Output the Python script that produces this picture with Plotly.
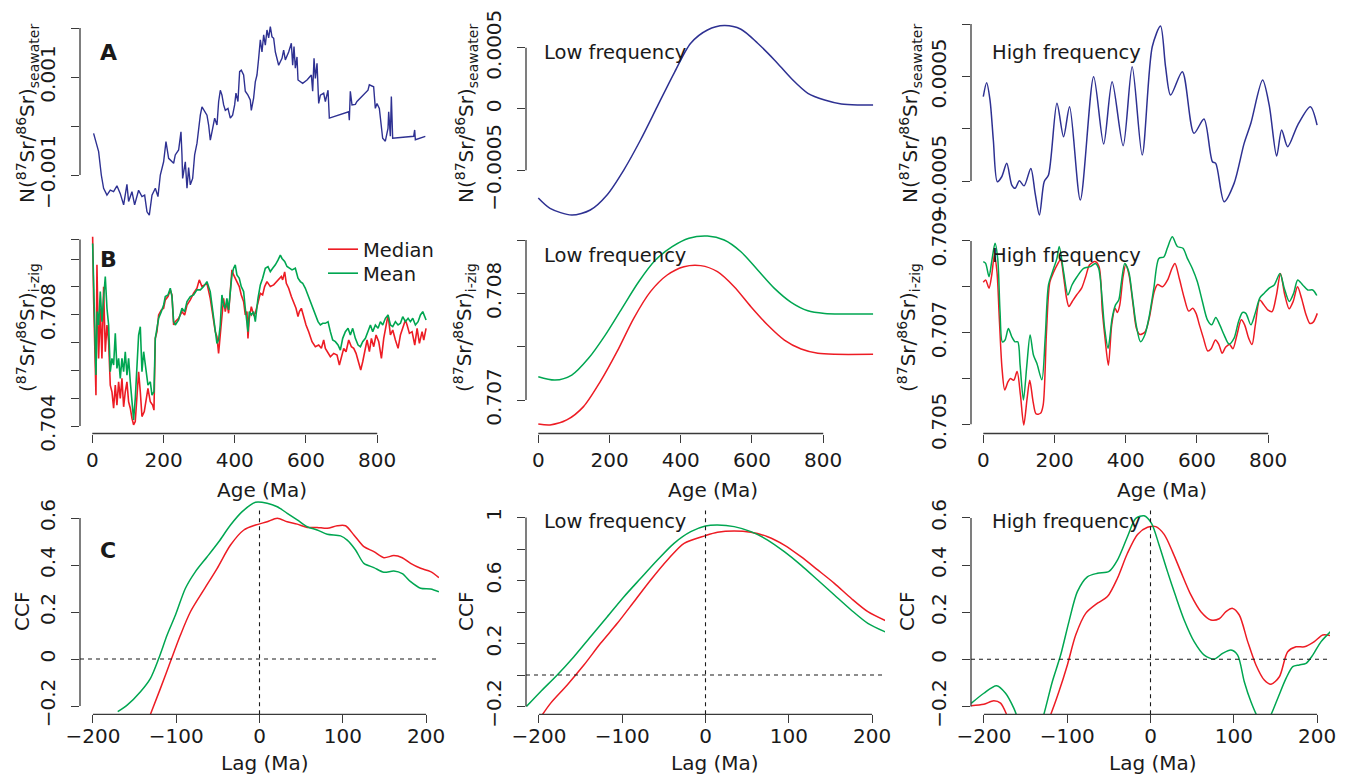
import plotly.graph_objects as go
from plotly.subplots import make_subplots

W, H = 1348, 776
FONT = 'DejaVu Sans'
INK = '#1a1a1a'
AXIS = '#3a3a3a'
BLUE = '#2E3192'
RED = '#ED1C24'
GREEN = '#00A651'

# ---------------- A: normalised seawater 87Sr/86Sr ----------------
age_sw = [3.7, 13.1, 17.8, 25.3, 31.8, 41.2, 50.5, 59.8, 69.2, 78.6,
          88, 97.3, 102, 111.4, 118.9, 130, 139.5, 147, 153.6, 160.1,
          167.6, 177, 184.4, 191, 200.3, 206.9, 214.4, 228.4, 233, 242.4,
          249, 251.8, 253.7, 261.2, 265.9, 270.5, 275.2, 281.8, 287.4, 294,
          298.6, 303.3, 308, 315.5, 322, 326.7, 331.4, 338, 343.6, 350.1,
          354.8, 359.5, 364.1, 368.8, 373.5, 381, 387.5, 394, 399.7, 403.4,
          409, 413.7, 418.4, 424.9, 429.6, 437.1, 443.6, 446.5, 453, 457.7,
          462.4, 467.1, 471.8, 476.5, 481.2, 485.8, 490.5, 495.2, 499.9, 504.6,
          509.3, 514, 523.3, 532.7, 537.3, 542, 551.4, 558.9, 562.6, 566.4,
          570.1, 574.8, 577.6, 590.7, 602.9, 615.1, 618.8, 622.6, 626.3, 631,
          635.7, 640.4, 649.7, 654.4, 661.9, 665.6, 691.8, 719.9, 721.7, 724.5,
          729.2, 738.6, 743.2, 774.1, 777.9, 790, 794.7, 799.4, 806, 811.6,
          815.3, 822.8, 830.3, 832.2, 836.9, 839.7, 843.4, 902.4, 905.2, 907.1,
          935.1]
nsw = [-0.149e-3, -0.388e-3, -0.524e-3, -1.0e-3, -1.27e-3, -1.41e-3, -1.31e-3, -1.34e-3, -1.22e-3, -1.38e-3,
       -1.61e-3, -1.19e-3, -1.54e-3, -1.34e-3, -1.61e-3, -1.31e-3, -1.44e-3, -1.41e-3, -1.75e-3, -1.82e-3,
       -1.41e-3, -1.27e-3, -1.44e-3, -1.0e-3, -0.73e-3, -0.32e-3, -0.66e-3, -0.76e-3, -0.59e-3, -0.49e-3,
       -0.12e-3, -0.59e-3, -1.07e-3, -0.73e-3, -1.27e-3, -0.85e-3, -1.2e-3, -1.07e-3, -0.59e-3, -0.35e-3,
       -0.05e-3, 0.22e-3, 0.39e-3, 0.29e-3, 0.22e-3, 0.02e-3, -0.29e-3, -0.05e-3, 0.16e-3, 0.02e-3,
       0.5e-3, 0.73e-3, 0.63e-3, 0.43e-3, 0.32e-3, 0.36e-3, 0.16e-3, 0.22e-3, 0.43e-3, 0.67e-3,
       0.5e-3, 1.11e-3, 1.14e-3, 1.04e-3, 0.71e-3, 0.63e-3, 0.53e-3, 0.32e-3, 0.57e-3, 0.9e-3,
       1.04e-3, 1.38e-3, 1.76e-3, 1.51e-3, 1.86e-3, 1.65e-3, 1.96e-3, 1.8e-3, 2.03e-3, 1.82e-3,
       1.79e-3, 1.51e-3, 1.24e-3, 1.38e-3, 1.55e-3, 1.35e-3, 1.51e-3, 1.69e-3, 1.24e-3, 1.62e-3,
       1.18e-3, 1.41e-3, 0.94e-3, 0.87e-3, 0.94e-3, 1.04e-3, 0.71e-3, 1.38e-3, 0.97e-3, 1.28e-3,
       0.46e-3, 0.63e-3, 0.67e-3, 0.5e-3, 0.73e-3, 0.16e-3, 0.22e-3, 0.29e-3, 0.12e-3, 0.71e-3,
       0.43e-3, 0.44e-3, 0.5e-3, 0.73e-3, 0.84e-3, 0.8e-3, 0.36e-3, 0.46e-3, 0.36e-3, -0.08e-3,
       -0.25e-3, -0.31e-3, -0.05e-3, 0.29e-3, -0.21e-3, 0.6e-3, -0.25e-3, -0.21e-3, -0.08e-3, -0.28e-3,
       -0.21e-3]

age_sw_low = [0, 33, 94, 146, 193, 240, 287, 334, 381, 428, 475, 522, 569, 616, 663,
              710, 757, 804, 851, 898, 940]
nsw_low = [-7.26e-4, -8.1e-4, -8.65e-4, -8.24e-4, -7.01e-4, -4.98e-4, -2.53e-4, 0.19e-4,
           2.91e-4, 5.36e-4, 6.44e-4, 6.8e-4, 6.5e-4, 5.36e-4, 4.0e-4, 2.5e-4, 1.28e-4,
           0.73e-4, 0.41e-4, 0.33e-4, 0.33e-4]

age_sw_high = [0, 9.4, 18.9, 28.2, 39.4, 51.8, 65.9, 80, 89.3, 101.4,
               114.6, 133.5, 145.6, 157.7, 171, 183.1, 206.8, 225.4, 242.3, 272.4,
               309.9, 338, 361.7, 392.7, 418, 446.2, 474.4, 497.7, 511.8, 525.9,
               558.9, 591.5, 619.7, 643.4, 652.7, 676.1, 704.2, 732.4, 751.3, 784.2,
               802.8, 823.7, 837.7, 854.6, 882.8, 918.3, 937.2]
nsw_high = [3.06e-4, 4.39e-4, 2.74e-4, -1.08e-4, -5.06e-4, -4.59e-4, -3.31e-4, -5.38e-4, -5.69e-4, -4.98e-4,
            -5.46e-4, -3.79e-4, -6.17e-4, -8.25e-4, -5.06e-4, -4.42e-4, 2.43e-4, -0.76e-4, 2.1e-4, -6.81e-4,
            4.97e-4, -1.46e-4, 4.49e-4, -1.62e-4, 5.92e-4, -2.51e-4, 7.83e-4, 9.81e-4, 5.92e-4, 3.22e-4,
            5.45e-4, -0.44e-4, 0.93e-4, -3.15e-4, -3.31e-4, -6.97e-4, -5.22e-4, -1.4e-4, 0.52e-4, 4.65e-4,
            2.26e-4, -2.61e-4, -0.12e-4, -1.72e-4, 0.35e-4, 2.1e-4, 0.35e-4]

# ---------------- B: (87Sr/86Sr) i-zig, median and mean ----------------
age_med = [1, 3.7, 10.3, 13.1, 17.8, 22.5, 27.1, 31.8, 36.5, 41.2,
           45.9, 50.5, 55.2, 59.9, 64.6, 69.2, 73.9, 78.6, 83.3, 88,
           92.6, 97.3, 102, 106.7, 111.4, 116, 120.7, 125.4, 130.1, 134.8,
           139.5, 146, 150.7, 156.3, 162.9, 169.4, 173.2, 176.9, 181.6, 186.3,
           193.8, 200.3, 205, 212.5, 219, 223.7, 228.4, 233, 242.4, 251.8,
           259.3, 265.9, 275.2, 284.5, 293.9, 300.4, 307.9, 317.2, 321.9, 331.2,
           337.8, 345.3, 350, 354.6, 359.3, 364, 368.7, 373.4, 378, 382.7,
           387.4, 392.1, 396.8, 401.4, 406.1, 412.7, 418.3, 424.9, 429.6, 434.3,
           437.1, 440.8, 446.5, 453, 457.7, 465.2, 471.8, 478.3, 483.9, 490.5,
           499.9, 509.3, 518.6, 525.2, 530.8, 534.5, 540.2, 544.8, 551.4, 558.9,
           565.4, 572, 577.6, 581.4, 587, 593.5, 600.1, 607.6, 617, 626.3,
           635.7, 643.2, 649.7, 654.4, 661.9, 668.5, 677.8, 687.2, 693.8, 699.4,
           706, 712.5, 720, 727.5, 734.1, 740.6, 748.1, 753.7, 759.3, 765,
           771.5, 778.1, 783.7, 790.2, 796.8, 804.3, 811.8, 818.3, 824.9, 830.5,
           837.1, 843.6, 851.1, 858.6, 865.2, 871.7, 879.2, 883.9, 890.4, 897.9,
           905.4, 912, 918.5, 926, 930.7, 937.2]
sr_med = [0.7108, 0.70859, 0.70511, 0.70979, 0.70643, 0.70823, 0.70643, 0.7090, 0.70667, 0.70763,
          0.70703, 0.70547, 0.70523, 0.70464, 0.70547, 0.70475, 0.70559, 0.70499, 0.70571, 0.70469,
          0.70523, 0.70559, 0.70487, 0.70464, 0.70428, 0.70404, 0.70416, 0.70499, 0.70595, 0.70523,
          0.70434, 0.70452, 0.70499, 0.70535, 0.70487, 0.70475, 0.70457, 0.70715, 0.70739, 0.70799,
          0.70817, 0.70823, 0.70853, 0.70865, 0.70889, 0.70871, 0.70763, 0.70775, 0.70787, 0.70811,
          0.70799, 0.70835, 0.70853, 0.70877, 0.70895, 0.70925, 0.70901, 0.70907, 0.70913, 0.70859,
          0.70805, 0.70739, 0.70721, 0.70661, 0.70727, 0.70799, 0.70859, 0.70811, 0.70847, 0.70805,
          0.70871, 0.70961, 0.70943, 0.70931, 0.70913, 0.70901, 0.70871, 0.70847, 0.70799, 0.70811,
          0.70715, 0.70787, 0.70829, 0.70799, 0.70805, 0.70847, 0.70877, 0.70871, 0.70901, 0.70919,
          0.70901, 0.70907, 0.70919, 0.70931, 0.70937, 0.70925, 0.70954, 0.70913, 0.70895, 0.70865,
          0.70841, 0.70823, 0.70793, 0.70811, 0.70823, 0.70793, 0.70763, 0.70739, 0.70703, 0.70685,
          0.70691, 0.70679, 0.70709, 0.70679, 0.70661, 0.70649, 0.70661, 0.70655, 0.70619, 0.70649,
          0.70679, 0.70667, 0.70709, 0.70685, 0.70679, 0.70661, 0.70631, 0.70601, 0.70631, 0.70667,
          0.70709, 0.70667, 0.70715, 0.70685, 0.70727, 0.70703, 0.70643, 0.70715, 0.70763, 0.70799,
          0.70727, 0.70745, 0.70709, 0.70679, 0.70727, 0.70751, 0.70781, 0.70763, 0.70733, 0.70739,
          0.70691, 0.70751, 0.70697, 0.70739, 0.70709, 0.70751]

age_mean = [1, 3.7, 10.3, 14, 17.8, 22.5, 27.1, 31.8, 36.5, 41.2,
            45.9, 50.5, 55.2, 59.9, 64.6, 69.2, 73.9, 78.6, 83.3, 88,
            92.6, 97.3, 102, 106.7, 111.4, 116, 120.7, 125.4, 130.1, 134.8,
            139.5, 144.2, 150.7, 156.3, 162.9, 167.6, 173.2, 176.9, 181.6, 186.3,
            193.8, 200.3, 205, 212.5, 219, 223.7, 228.4, 233, 242.4, 251.8,
            259.3, 265.9, 275.2, 284.5, 293.9, 303.3, 312.6, 321.9, 331.2, 337.8,
            345.3, 350, 354.6, 359.3, 364, 368.7, 373.4, 378, 382.7, 387.4,
            392.1, 396.8, 401.4, 406.1, 412.7, 418.3, 424.9, 429.6, 434.3, 437.1,
            440.8, 446.5, 453, 457.7, 465.2, 471.8, 478.3, 485.8, 493.3, 499.9,
            506.5, 514, 521.4, 528, 532.7, 540.2, 546.7, 553.3, 560.8, 570.1,
            577.6, 584.2, 590.7, 598.2, 605.7, 612.2, 618.8, 626.3, 633.8, 640.4,
            647, 654.4, 661.9, 668.5, 675, 682.5, 690, 696.5, 703.1, 710.6,
            718.1, 724.6, 731.2, 738.6, 746.2, 752.8, 759.3, 766.8, 774.3, 780.9,
            787.4, 794.9, 802.4, 808.9, 815.5, 823, 830.5, 837.1, 843.6, 851.1,
            858.6, 865.2, 871.7, 879.2, 886.7, 893.2, 899.8, 907.3, 914.8, 921.4,
            927.9, 933.5, 937.2]
sr_mean = [0.71056, 0.70883, 0.70583, 0.70811, 0.70763, 0.70883, 0.70775, 0.70859, 0.70937, 0.70823,
           0.70763, 0.70595, 0.70643, 0.70619, 0.70733, 0.70607, 0.70643, 0.70571, 0.70643, 0.70595,
           0.70667, 0.70583, 0.70643, 0.70559, 0.70499, 0.70422, 0.70499, 0.70595, 0.70727, 0.70757,
           0.70595, 0.70667, 0.70607, 0.70547, 0.70559, 0.70511, 0.70523, 0.70715, 0.70751, 0.70787,
           0.70811, 0.70835, 0.70865, 0.70871, 0.70895, 0.70865, 0.70775, 0.70763, 0.70781, 0.70823,
           0.70811, 0.70847, 0.70865, 0.70871, 0.70889, 0.70889, 0.70901, 0.70919, 0.70883, 0.70823,
           0.70739, 0.70697, 0.70709, 0.70763, 0.70871, 0.70835, 0.70823, 0.70859, 0.70817, 0.70883,
           0.70943, 0.70967, 0.70979, 0.70943, 0.70931, 0.70901, 0.70883, 0.70823, 0.70775, 0.70739,
           0.70811, 0.70799, 0.70811, 0.70775, 0.70859, 0.70907, 0.70931, 0.70967, 0.70973, 0.70955,
           0.70967, 0.70979, 0.70996, 0.71014, 0.71002, 0.70991, 0.70973, 0.70967, 0.70961, 0.70967,
           0.70931, 0.70919, 0.70913, 0.70895, 0.70871, 0.70847, 0.70823, 0.70799, 0.70775, 0.70763,
           0.70769, 0.70769, 0.70775, 0.70739, 0.70709, 0.70703, 0.70691, 0.70673, 0.70715, 0.70739,
           0.70751, 0.70727, 0.70751, 0.70715, 0.70691, 0.70685, 0.70703, 0.70715, 0.70739, 0.70763,
           0.70739, 0.70763, 0.70751, 0.70775, 0.70763, 0.70787, 0.70799, 0.70763, 0.70757, 0.70775,
           0.70763, 0.70769, 0.70793, 0.70775, 0.70787, 0.70775, 0.70787, 0.70763, 0.70775, 0.70799,
           0.70811, 0.70793, 0.70781]

age_mean_low = [0, 47, 94, 141, 188, 235, 282, 329, 376, 423, 475, 522, 569, 616, 663,
                710, 757, 804, 851, 940]
sr_mean_low = [0.707218, 0.707187, 0.707234, 0.707391, 0.707609, 0.70786, 0.708109, 0.708312,
               0.708437, 0.708516, 0.708537, 0.7085, 0.70839, 0.708219, 0.708047, 0.707916,
               0.707837, 0.707812, 0.707806, 0.707806]
age_med_low = [0, 33, 80, 127, 174, 221, 268, 315, 362, 409, 456, 503, 550, 597, 644,
               691, 738, 785, 832, 940]
sr_med_low = [0.706775, 0.706766, 0.706813, 0.706938, 0.707172, 0.707453, 0.707766, 0.708016,
              0.708172, 0.70825, 0.70826, 0.708203, 0.708062, 0.707875, 0.707703, 0.707562,
              0.707478, 0.707438, 0.707428, 0.707428]

age_mean_high = [0, 6.6, 16.1, 23.6, 33, 40.5, 47, 53.5, 61.1, 70.4,
                 80, 89.3, 96.9, 103.4, 112.7, 122.3, 131.5, 140.8, 150.4, 164.5,
                 173.8, 183.1, 194.4, 206.8, 213.2, 225.4, 237.7, 249, 263.1, 281.7,
                 300.6, 314.6, 324, 333.5, 340.8, 350.4, 361.7, 371, 380.3, 387.9,
                 397.2, 408.5, 418, 429.3, 441.4, 453.5, 464.8, 478.9, 493, 507,
                 516.6, 530.7, 544.8, 560.6, 573, 587, 601.1, 615.2, 629.3, 641.4,
                 652.7, 664, 676.1, 690.1, 704.2, 716.6, 727.9, 737.2, 751.3, 763.4,
                 776.6, 788.7, 802.8, 816.9, 832.9, 845, 859.2, 871.5, 882.8, 896.9,
                 911, 925, 936.4]
sr_mean_high = [0.70855, 0.70851, 0.70822, 0.70855, 0.70895, 0.70862, 0.70746, 0.70680, 0.70684, 0.70709,
                0.70691, 0.70680, 0.70680, 0.70629, 0.70553, 0.70629, 0.70695, 0.70651, 0.70633, 0.70597,
                0.70688, 0.70804, 0.70833, 0.70862, 0.70888, 0.70833, 0.70782, 0.70804, 0.70822, 0.70840,
                0.70844, 0.70851, 0.70840, 0.70775, 0.70709, 0.70666, 0.70731, 0.70760, 0.70771, 0.70811,
                0.70851, 0.70833, 0.70782, 0.70717, 0.70680, 0.70695, 0.70731, 0.70797, 0.70862, 0.70865,
                0.70884, 0.70909, 0.70888, 0.70884, 0.70862, 0.70840, 0.70811, 0.70768, 0.70728, 0.70717,
                0.70733, 0.70717, 0.70695, 0.70675, 0.70688, 0.70724, 0.70744, 0.70742, 0.70717, 0.70742,
                0.70776, 0.70786, 0.70797, 0.70804, 0.70829, 0.70797, 0.70768, 0.70786, 0.70815, 0.70804,
                0.70793, 0.70793, 0.70781]
age_med_high = [0, 6.6, 16.1, 23.6, 31.2, 38.4, 45, 52.6, 60.2, 69.5,
                76.1, 85.5, 94.9, 104.3, 113.6, 123, 130.5, 139.9, 148.3, 160.6,
                168.1, 177.5, 186.9, 198.1, 207.5, 216.9, 226.3, 233.8, 240.4, 249.8,
                262, 276.1, 287.4, 298.6, 313.6, 324.9, 334.3, 341.8, 351.2, 360.6,
                370, 376.6, 383.2, 392.5, 400, 409.4, 420.7, 430.1, 439.5, 454.5,
                465.8, 479.9, 489.3, 503.4, 517.5, 529.7, 538.2, 550.4, 564.5, 576.7,
                588, 597.4, 606.8, 618.1, 630.3, 639.7, 652, 661.4, 670.8, 680.2,
                691.5, 700.9, 712.2, 724.4, 733.8, 745.1, 754.5, 763.9, 776.1, 788.3,
                799.6, 810.9, 823.1, 834.4, 846.6, 858.8, 870.1, 882.3, 893.6, 905.8,
                917.1, 926.5, 937.8]
sr_med_high = [0.70810, 0.70815, 0.70797, 0.70825, 0.70869, 0.70833, 0.70731, 0.70622, 0.70575, 0.70593,
               0.70600, 0.70596, 0.70615, 0.70564, 0.704985, 0.70556, 0.70596, 0.70549, 0.705225, 0.70524,
               0.70542, 0.70702, 0.70810, 0.70833, 0.70848, 0.70859, 0.70818, 0.70775, 0.70757, 0.70768,
               0.70782, 0.70797, 0.70822, 0.70848, 0.70855, 0.70844, 0.70746, 0.70688, 0.70629, 0.70717,
               0.70753, 0.70744, 0.70760, 0.70822, 0.70848, 0.70825, 0.70760, 0.70709, 0.70696, 0.70702,
               0.70731, 0.70789, 0.70805, 0.70800, 0.70815, 0.70840, 0.70851, 0.70818, 0.70775, 0.70747,
               0.70753, 0.70742, 0.70717, 0.70688, 0.70660, 0.70665, 0.70684, 0.70674, 0.70655, 0.70668,
               0.70674, 0.70665, 0.70695, 0.70728, 0.70717, 0.70688, 0.70674, 0.70717, 0.70771, 0.70760,
               0.70749, 0.70746, 0.70782, 0.70829, 0.70782, 0.70752, 0.70768, 0.70800, 0.70775, 0.70740,
               0.70720, 0.70723, 0.70742]

# ---------------- C: cross-correlation functions ----------------
lag_mean = [-170.2, -158.9, -142.9, -130.9, -120.9, -110.9, -100.9, -88.9, -76.9, -62.8,
            -48.9, -34.8, -20.8, -4.8, 9.2, 21.3, 33.3, 45.3, 57.3, 69.3,
            81.3, 97.3, 105.3, 115.3, 125.3, 137.3, 149.3, 161.3, 171.4, 181.4,
            193.4, 205.4, 215.4]
ccf_mean = [-0.224, -0.196, -0.139, -0.082, 0.003, 0.102, 0.187, 0.301, 0.372, 0.435,
            0.499, 0.570, 0.627, 0.667, 0.663, 0.648, 0.62, 0.592, 0.563, 0.549,
            0.531, 0.524, 0.506, 0.464, 0.407, 0.389, 0.369, 0.374, 0.363, 0.329,
            0.301, 0.298, 0.286]
lag_med = [-130.9, -118.9, -106.9, -94.9, -82.9, -66.9, -50.8, -34.8, -18.8, -4.8,
           9.2, 21.3, 33.3, 45.3, 57.3, 69.3, 81.3, 93.3, 103.3, 113.3,
           125.3, 137.3, 149.3, 161.3, 171.4, 181.4, 193.4, 205.4, 215.4]
ccf_med = [-0.235, -0.125, -0.011, 0.102, 0.201, 0.294, 0.386, 0.485, 0.549, 0.570,
           0.584, 0.599, 0.584, 0.574, 0.560, 0.560, 0.556, 0.567, 0.567, 0.528,
           0.478, 0.457, 0.431, 0.440, 0.431, 0.407, 0.386, 0.372, 0.346]

lag_mean_low = [-215, -198.1, -178, -158, -138, -117.9, -97.9, -77.8, -57.7, -37.8,
                -17.7, 0, 14.4, 34.4, 54.5, 74.6, 94.6, 114.6, 134.7, 154.7,
                174.8, 194.9, 216.9]
ccf_mean_low = [-0.2, -0.106, 0.0, 0.116, 0.243, 0.37, 0.497, 0.614, 0.730, 0.836,
                0.910, 0.946, 0.952, 0.942, 0.910, 0.857, 0.783, 0.698, 0.603, 0.508,
                0.413, 0.328, 0.271]
lag_med_low = [-196.1, -186.1, -166, -146, -126, -105.9, -85.9, -65.8, -45.7, -25.7,
               0, 14.4, 34.4, 54.5, 74.6, 94.6, 114.6, 134.7, 154.7, 174.8,
               194.9, 216.9]
ccf_med_low = [-0.254, -0.18, -0.063, 0.063, 0.201, 0.328, 0.465, 0.603, 0.730, 0.836,
               0.885, 0.906, 0.914, 0.906, 0.878, 0.825, 0.751, 0.667, 0.582, 0.487,
               0.402, 0.343]

lag_mean_high = [-215.3, -200.1, -184.8, -174, -164, -155, -145, -135, -128, -117.9,
                 -107.9, -97.9, -87.8, -75.8, -63.7, -49.8, -39.7, -27.7, -17.7, -7.7,
                 1.2, 10.3, 20.4, 30.4, 40.4, 52.4, 64.5, 76.5, 86.6, 96.6,
                 104.6, 112.6, 120.6, 129.4, 136, 142.6, 152.7, 162.7, 170.8, 178.7,
                 186.8, 194.8, 204.8, 216.8]
ccf_mean_high = [-0.187, -0.144, -0.112, -0.144, -0.208, -0.29, -0.35, -0.31, -0.233, -0.095,
                 0.018, 0.16, 0.287, 0.35, 0.365, 0.373, 0.421, 0.52, 0.598, 0.609,
                 0.577, 0.485, 0.372, 0.266, 0.167, 0.075, 0.018, 0.001, 0.025, 0.039,
                 0.018, -0.095, -0.18, -0.25, -0.28, -0.25, -0.166, -0.081, -0.031, -0.024,
                 -0.017, 0.018, 0.075, 0.12]
lag_med_high = [-215.3, -200.1, -188.1, -180, -172, -160, -150, -140, -128, -119.9,
                -109.9, -99.8, -89.8, -77.8, -63.7, -51.7, -39.7, -27.7, -15.6, -3.6,
                6.4, 16.4, 26.5, 36.4, 48.5, 60.5, 72.5, 82.5, 90.6, 98.6,
                106.6, 116.7, 126.6, 136.6, 144.7, 154.7, 164.7, 174.7, 184.7, 196.7,
                206.8, 216.8]
ccf_med_high = [-0.197, -0.191, -0.176, -0.186, -0.24, -0.35, -0.40, -0.38, -0.30, -0.235,
                -0.137, -0.024, 0.103, 0.195, 0.238, 0.266, 0.344, 0.45, 0.53, 0.56,
                0.563, 0.53, 0.456, 0.372, 0.273, 0.202, 0.167, 0.172, 0.202, 0.216,
                0.188, 0.075, -0.024, -0.088, -0.106, -0.074, 0.032, 0.053, 0.053, 0.075,
                0.103, 0.1]

# ---------------- axes ----------------
age_ticks = [0, 200, 400, 600, 800]
lag_ticks = [-200, -100, 0, 100, 200]
lag_labels = ['\u2212200', '\u2212100', '0', '100', '200']
AGE_RANGE = [-34.5, 973.5]
LAG_RANGE = [-215.5, 215.5]

panels = {
    (1, 1): dict(yr=[-0.001969, 0.002204], yt=[-0.001, 0, 0.001, 0.002],
                 yl=['\u22120.001', '', '0.001', '']),
    (1, 2): dict(yr=[-0.000926, 0.000742], yt=[-0.0005, 0, 0.0005],
                 yl=['\u22120.0005', '0', '0.0005']),
    (1, 3): dict(yr=[-0.000896, 0.001058], yt=[-0.0005, 0, 0.0005, 0.001],
                 yl=['\u22120.0005', '', '0.0005', '']),
    (2, 1): dict(yr=[0.703731, 0.711097],
                 yt=[0.704, 0.705, 0.706, 0.707, 0.708, 0.709, 0.710, 0.7107],
                 yl=['0.704', '', '', '', '0.708', '', '', '']),
    (2, 2): dict(yr=[0.706686, 0.708608], yt=[0.707, 0.7075, 0.708, 0.7085],
                 yl=['0.707', '', '0.708', '']),
    (2, 3): dict(yr=[0.704799, 0.709272], yt=[0.705, 0.706, 0.707, 0.708, 0.709],
                 yl=['0.705', '', '0.707', '', '0.709']),
    (3, 1): dict(yr=[-0.2353, 0.6809], yt=[-0.2, 0, 0.2, 0.4, 0.6],
                 yl=['\u22120.2', '0', '0.2', '0.4', '0.6']),
    (3, 2): dict(yr=[-0.2495, 1.0444], yt=[-0.2, 0, 0.2, 0.4, 0.6, 0.8, 1.0],
                 yl=['\u22120.2', '', '0.2', '', '0.6', '', '1']),
    (3, 3): dict(yr=[-0.2333, 0.6313], yt=[-0.2, 0, 0.2, 0.4, 0.6],
                 yl=['\u22120.2', '0', '0.2', '0.4', '0.6']),
}

col_px = [(80, 439), (526, 885), (971, 1330)]
row_px = [(18, 222.5), (228.5, 433.5), (510.5, 714.3)]


def fx(p):
    return p / W


def fy(p):
    return 1 - p / H


fig = make_subplots(rows=3, cols=3)


def add_line(r, c, x, y, color, name=None, spline=False, legend=None, width=1.5):
    line = dict(color=color, width=width)
    if spline:
        line.update(shape='spline', smoothing=0.8)
    fig.add_trace(go.Scatter(x=x, y=y, mode='lines', name=name,
                             showlegend=legend is not None, legend=legend or 'legend',
                             line=line, hoverinfo='skip'), row=r, col=c)


add_line(1, 1, age_sw, nsw, BLUE, width=1.4)
add_line(1, 2, age_sw_low, nsw_low, BLUE, spline=True)
add_line(1, 3, age_sw_high, nsw_high, BLUE, spline=True)

add_line(2, 1, age_med, sr_med, RED, name='Median', legend='legend', width=1.6)
add_line(2, 1, age_mean, sr_mean, GREEN, name='Mean', legend='legend2', width=1.6)
add_line(2, 2, age_med_low, sr_med_low, RED, spline=True)
add_line(2, 2, age_mean_low, sr_mean_low, GREEN, spline=True)
add_line(2, 3, age_med_high, sr_med_high, RED, spline=True)
add_line(2, 3, age_mean_high, sr_mean_high, GREEN, spline=True)

add_line(3, 1, lag_med, ccf_med, RED, spline=True)
add_line(3, 1, lag_mean, ccf_mean, GREEN, spline=True)
add_line(3, 2, lag_med_low, ccf_med_low, RED, spline=True)
add_line(3, 2, lag_mean_low, ccf_mean_low, GREEN, spline=True)
add_line(3, 3, lag_med_high, ccf_med_high, RED, spline=True)
add_line(3, 3, lag_mean_high, ccf_mean_high, GREEN, spline=True)

tickfont = dict(family=FONT, size=20, color=INK)
for (r, c), p in panels.items():
    x0, x1 = col_px[c - 1]
    y0, y1 = row_px[r - 1]
    if (r, c) == (3, 1):
        y0 = 499  # room for the peak that spills over the top
    xt = lag_ticks if r == 3 else age_ticks
    xl = lag_labels if r == 3 else [str(t) for t in age_ticks]
    fig.update_xaxes(row=r, col=c, domain=[fx(x0), fx(x1)],
                     range=LAG_RANGE if r == 3 else AGE_RANGE, automargin=False,
                     visible=(r != 1), tickvals=xt, ticktext=xl,
                     ticks='outside', ticklen=8, tickwidth=1.3, tickcolor=AXIS,
                     tickfont=tickfont, ticklabelstandoff=0 if r == 2 else -4,
                     showline=False, showgrid=False, zeroline=False)
    fig.update_yaxes(row=r, col=c, domain=[fy(y1), fy(y0)], range=p['yr'],
                     automargin=False,
                     tickvals=p['yt'], ticktext=p['yl'], tickangle=-90,
                     ticks='outside', ticklen=8, tickwidth=1.3, tickcolor=AXIS,
                     tickfont=tickfont, ticklabelstandoff=8,
                     showline=False, showgrid=False, zeroline=False)

    # R-style axis lines that only run between the end ticks
    i = (r - 1) * 3 + c
    xs = 'x' if i == 1 else 'x%d' % i
    ys = 'y' if i == 1 else 'y%d' % i
    fig.add_shape(type='line', xref=xs + ' domain', yref=ys, x0=0, x1=0,
                  y0=min(p['yt']), y1=max(p['yt']), line=dict(color=AXIS, width=1.3))
    if r != 1:
        fig.add_shape(type='line', xref=xs, yref=ys + ' domain', x0=min(xt), x1=max(xt),
                      y0=0, y1=0, line=dict(color=AXIS, width=1.3))

    if r == 3:
        fig.add_shape(type='line', xref=xs + ' domain', yref=ys, x0=0, x1=1, y0=0, y1=0,
                      line=dict(color=INK, width=1.1, dash='4px,4px'))
        top = (714.3 - 510.5) / (714.3 - y0)
        fig.add_shape(type='line', xref=xs, yref=ys + ' domain', x0=0, x1=0, y0=0, y1=top,
                      line=dict(color=INK, width=1.1, dash='4px,4px'))

# ---------------- text ----------------
ann = []


def text(x, y, s, size=20, angle=0, xanchor='center'):
    ann.append(dict(x=fx(x), y=fy(y), xref='paper', yref='paper', text=s,
                    showarrow=False, textangle=angle, xanchor=xanchor, yanchor='middle',
                    font=dict(family=FONT, size=size, color=INK)))


sw_title = 'N(<sup>87</sup>Sr/<sup>86</sup>Sr)<sub>seawater</sub>'
iz_title = '(<sup>87</sup>Sr/<sup>86</sup>Sr)<sub>i-zig</sub>'
for x in (27, 466, 910):
    text(x, 114, sw_title, angle=-90)
for x in (27, 464, 908):
    text(x, 328, iz_title, angle=-90)
for x in (22, 466, 907):
    text(x, 612, 'CCF', angle=-90)

for x in (262, 713, 1162):
    text(x, 490, 'Age (Ma)')
for x in (265, 715, 1153):
    text(x, 763, 'Lag (Ma)')

for y in (53, 256, 521):
    text(542, y, 'Low frequency', size=19.5, xanchor='left')
    text(989.5, y, 'High frequency', size=19.5, xanchor='left')

text(108, 53, '<b>A</b>', size=22)
text(108, 260, '<b>B</b>', size=22)
text(108, 550, '<b>C</b>', size=22)

legend_style = dict(xanchor='left', yanchor='top', bgcolor='rgba(0,0,0,0)', borderwidth=0,
                    itemwidth=30, font=dict(family=FONT, size=19.5, color=INK))

fig.update_layout(
    width=W, height=H, autosize=False,
    margin=dict(l=0, r=0, t=0, b=0),
    paper_bgcolor='white', plot_bgcolor='white',
    font=dict(family=FONT, size=20, color=INK),
    annotations=ann,
    legend=dict(x=fx(323), y=fy(230), **legend_style),
    legend2=dict(x=fx(323), y=fy(254), **legend_style),
)

# the page's default body margin would push the figure 8px off the corner
fig.write_html('out.html', config={'displayModeBar': False},
               post_script="document.body.style.margin='0';")
